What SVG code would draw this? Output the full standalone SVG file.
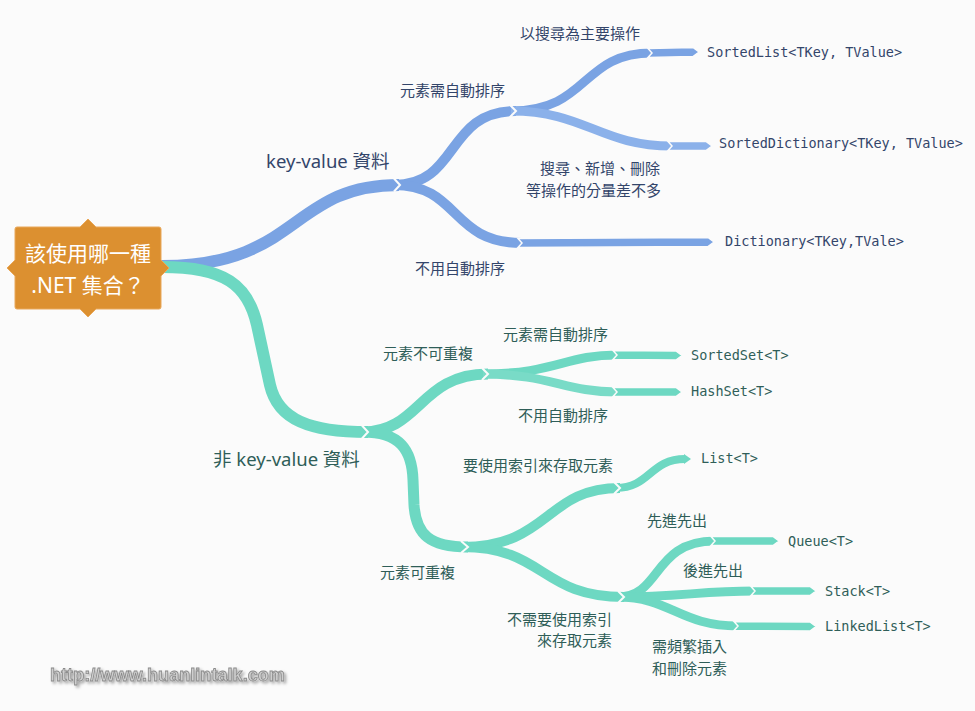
<svg xmlns="http://www.w3.org/2000/svg" width="975" height="711" viewBox="0 0 975 711">
<style>
.band{fill:none;stroke-linecap:butt}
.blue{stroke:#7aa3e3}
.blueL{stroke:#8bb1ea}
.green{stroke:#6dd8c2}
.greenL{stroke:#79dbc7}
.tb{fill:#7aa3e3;stroke:#fbfbfb;stroke-width:1.5}
.tbL{fill:#8bb1ea;stroke:#fbfbfb;stroke-width:1.5}
.tg{fill:#6dd8c2;stroke:#fbfbfb;stroke-width:1.5}
.chev{fill:none;stroke:#fbfbfb;stroke-width:2}
.cjk{font-family:"Noto Sans CJK TC","Noto Sans",sans-serif;font-size:15px}
.lat{font-family:"Noto Sans","Noto Sans CJK TC",sans-serif;font-size:18.5px}
.mono{font-family:"DejaVu Sans Mono","Liberation Mono",monospace;font-size:13.5px}
.tB{fill:#33456a}
.tG{fill:#2f5e58}
</style>
<defs>
<filter id="sh" x="-10%" y="-50%" width="120%" height="200%">
<feGaussianBlur in="SourceAlpha" stdDeviation="1.5"/>
<feOffset dx="1.5" dy="2" result="b"/>
<feFlood flood-color="#000" flood-opacity="0.35"/>
<feComposite in2="b" operator="in"/>
<feMerge><feMergeNode/><feMergeNode in="SourceGraphic"/></feMerge>
</filter>
</defs>
<rect width="975" height="711" fill="#fbfbfb"/>

<g id="connectors">
<path class="band blue" stroke-width="12" d="M162,266 C300,266 290,185 399,185"/>
<path class="band blue" stroke-width="10" d="M394,185 C460,185 445,111 516,111"/>
<path class="band blue" stroke-width="10" d="M394,185 C460,185 450,243 522,243"/>
<path class="band blue" stroke-width="9" d="M511,111 C590,111 580,53 652,53"/>
<path class="band blueL" stroke-width="9" d="M511,111 C585,111 600,146 672,146"/>
<polyline class="chev" points="394,178.5 400,185 394,191.5"/>
<polyline class="chev" points="510,105 516,111 510,117"/>
<polygon class="tb" points="648,48.5 693,47.5 699,52 693,56.5 648,57.5 652,53"/>
<polygon class="tbL" points="668,141.5 706,141.5 712,146 706,150.5 668,150.5 672,146"/>
<polygon class="tb" points="518,238.5 708,237.5 714,242 708,246.5 518,247.5 522,243"/>
<path class="band green" stroke-width="12" d="M162,267 C225,267 248,285 257,325 L270,385 C278,420 310,432 368,432"/>
<path class="band green" stroke-width="11" d="M363,432 C420,432 420,374 488,374"/>
<path class="band green" stroke-width="11" d="M363,432 C400,432 412,450 413,480 L414,505 C416,535 430,547 468,547"/>
<polyline class="chev" points="362,425.5 368,432 362,438.5"/>
<path class="band green" stroke-width="9" d="M483,374 C555,374 565,355 617,355"/>
<path class="band greenL" stroke-width="9" d="M483,374 C550,374 565,392 617,392"/>
<polyline class="chev" points="482,368 488,374 482,380"/>
<polygon class="tg" points="613,350.5 676,351 682,355.5 676,360 613,359.5 617,355"/>
<polygon class="tg" points="613,387.5 676,387.5 682,392 676,396.5 613,396.5 617,392"/>
<path class="band green" stroke-width="10" d="M462,547 C550,547 545,488 620,488"/>
<path class="band green" stroke-width="10" d="M462,547 C545,547 540,597 624,597"/>
<polyline class="chev" points="461,541 468,547 461,553"/>
<path class="band green" stroke-width="8" d="M616,488 C650,488 650,459 685,459"/>
<polygon fill="#6dd8c2" points="684,454 691,459 684,464"/>
<polyline class="chev" points="614,482 620,488 614,494"/>
<path class="band green" stroke-width="9" d="M618,597 C662,597 652,541 715,541"/>
<path class="band green" stroke-width="9" d="M618,597 C680,597 700,591 755,591"/>
<path class="band green" stroke-width="9" d="M618,597 C670,597 680,626 738,626"/>
<polyline class="chev" points="618,591 624,597 618,603"/>
<polygon class="tg" points="711,536.5 773,536.5 779,541 773,545.5 711,545.5 715,541"/>
<polygon class="tg" points="751,586.5 810,586.5 816,591 810,595.5 751,595.5 755,591"/>
<polygon class="tg" points="734,621.5 810,622 816,626.5 810,631 734,630.5 738,626"/>
</g>

<g id="root">
<path d="M17,227 H80 L88,219 L96,227 H159 Q161,227 161,229 V260 L169,268 L161,276 V307 Q161,309 159,309 H96 L88,317 L80,309 H17 Q15,309 15,307 V276 L7,268 L15,260 V229 Q15,227 17,227 Z" fill="#dc9030" stroke="#e9a85a" stroke-width="1"/>
<text x="88" y="261" text-anchor="middle" font-family="Noto Sans CJK TC, Noto Sans, sans-serif" font-size="21" fill="#ffffff">該使用哪一種</text>
<text x="88" y="293" text-anchor="middle" font-family="Noto Sans, Noto Sans CJK TC, sans-serif" font-size="21" fill="#ffffff">.NET 集合？</text>
</g>

<g id="kv"><text class="lat tB" x="266" y="168">key-value 資料</text></g>
<g id="kv-sorted"><text class="cjk tB" x="400" y="96">元素需自動排序</text></g>
<g id="kv-search"><text class="cjk tB" x="520" y="39">以搜尋為主要操作</text></g>
<g id="kv-balance"><text class="cjk tB" x="540" y="174">搜尋、新增、刪除</text><text class="cjk tB" x="526" y="196">等操作的分量差不多</text></g>
<g id="kv-unsorted"><text class="cjk tB" x="415" y="274">不用自動排序</text></g>
<g id="sortedlist"><text class="mono tB" x="707" y="57">SortedList&lt;TKey, TValue&gt;</text></g>
<g id="sorteddict"><text class="mono tB" x="719" y="148">SortedDictionary&lt;TKey, TValue&gt;</text></g>
<g id="dictionary"><text class="mono tB" x="725" y="246">Dictionary&lt;TKey,TVale&gt;</text></g>

<g id="nonkv"><text class="lat tG" x="213" y="466">非 key-value 資料</text></g>
<g id="unique"><text class="cjk tG" x="383" y="359">元素不可重複</text></g>
<g id="unique-sorted"><text class="cjk tG" x="503" y="340">元素需自動排序</text></g>
<g id="unique-unsorted"><text class="cjk tG" x="518" y="421">不用自動排序</text></g>
<g id="sortedset"><text class="mono tG" x="691" y="360">SortedSet&lt;T&gt;</text></g>
<g id="hashset"><text class="mono tG" x="691" y="396">HashSet&lt;T&gt;</text></g>
<g id="dup"><text class="cjk tG" x="380" y="578">元素可重複</text></g>
<g id="dup-index"><text class="cjk tG" x="463" y="471">要使用索引來存取元素</text></g>
<g id="list"><text class="mono tG" x="701" y="463">List&lt;T&gt;</text></g>
<g id="dup-noindex"><text class="cjk tG" x="612" y="625" text-anchor="end">不需要使用索引</text><text class="cjk tG" x="612" y="646" text-anchor="end">來存取元素</text></g>
<g id="fifo"><text class="cjk tG" x="647" y="526">先進先出</text></g>
<g id="queue"><text class="mono tG" x="788" y="546">Queue&lt;T&gt;</text></g>
<g id="lifo"><text class="cjk tG" x="683" y="576">後進先出</text></g>
<g id="stack"><text class="mono tG" x="825" y="596">Stack&lt;T&gt;</text></g>
<g id="insdel"><text class="cjk tG" x="652" y="652">需頻繁插入</text><text class="cjk tG" x="652" y="674">和刪除元素</text></g>
<g id="linkedlist"><text class="mono tG" x="825" y="631">LinkedList&lt;T&gt;</text></g>

<text x="50" y="681" font-family="Liberation Sans, Arial, sans-serif" font-weight="bold" font-size="18" textLength="235" lengthAdjust="spacingAndGlyphs" fill="#cfcfcf" stroke="#8a8a8a" stroke-width="0.8" filter="url(#sh)">http://www.huanlintalk.com</text>
</svg>
